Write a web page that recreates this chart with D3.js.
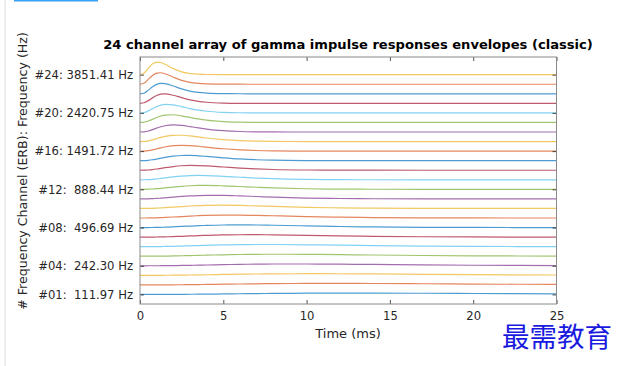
<!DOCTYPE html>
<html>
<head>
<meta charset="utf-8">
<script src="https://cdn.jsdelivr.net/npm/d3@7"></script>
<style>
  html, body { margin: 0; padding: 0; background: #fff; }
  svg { display: block; }
  text { font-family: "DejaVu Sans", sans-serif; }
</style>
</head>
<body>
<svg id="chart" width="624" height="366"></svg>
<script>
// ---------------- data ----------------
const title = "24 channel array of gamma impulse responses envelopes (classic)";
const xLabel = "Time (ms)";
const yLabel = "# Frequency Channel (ERB): Frequency (Hz)";

const channels = d3.range(1, 25);
const xTicks = [0, 5, 10, 15, 20, 25];
const yTickChannels = [1, 4, 8, 12, 16, 20, 24];
const yTickLabels = [
  "#01:  111.97 Hz",
  "#04:  242.30 Hz",
  "#08:  496.69 Hz",
  "#12:  888.44 Hz",
  "#16: 1491.72 Hz",
  "#20: 2420.75 Hz",
  "#24: 3851.41 Hz"
];

// time samples (ms)
const timeMs = [0, 0.25, 0.5, 0.75, 1, 1.25, 1.5, 2, 2.5, 3, 3.5, 4, 5, 6, 7, 8, 10, 12, 14, 17, 20, 25];

// envelope height above each channel's baseline (in channel units), channel 1 .. 24
const envelopes = [
  [0,0,0,0,0.001,0.002,0.003,0.007,0.012,0.018,0.026,0.034,0.053,0.072,0.090,0.107,0.130,0.140,0.139,0.123,0.099,0.059],
  [0,0,0,0.001,0.002,0.003,0.005,0.010,0.017,0.026,0.036,0.047,0.070,0.093,0.114,0.131,0.151,0.154,0.145,0.118,0.088,0.046],
  [0,0,0,0.001,0.002,0.004,0.007,0.014,0.024,0.036,0.049,0.063,0.092,0.119,0.141,0.157,0.171,0.165,0.146,0.108,0.073,0.033],
  [0,0,0.001,0.002,0.003,0.006,0.010,0.020,0.034,0.049,0.067,0.084,0.119,0.149,0.170,0.184,0.187,0.169,0.140,0.094,0.058,0.022],
  [0,0,0.001,0.002,0.005,0.009,0.014,0.029,0.047,0.067,0.089,0.111,0.151,0.181,0.200,0.208,0.196,0.164,0.126,0.076,0.042,0.013],
  [0,0,0.001,0.004,0.008,0.013,0.021,0.040,0.064,0.091,0.118,0.144,0.187,0.216,0.229,0.228,0.198,0.153,0.108,0.058,0.028,0.007],
  [0,0,0.002,0.005,0.011,0.019,0.030,0.056,0.087,0.120,0.152,0.182,0.226,0.249,0.252,0.240,0.190,0.134,0.086,0.040,0.017,0.003],
  [0,0,0.003,0.008,0.016,0.027,0.042,0.077,0.117,0.157,0.194,0.225,0.267,0.279,0.268,0.243,0.174,0.110,0.064,0.026,0.009,0.001],
  [0,0.001,0.004,0.011,0.023,0.039,0.058,0.105,0.154,0.202,0.242,0.274,0.306,0.302,0.274,0.234,0.150,0.085,0.044,0.015,0.004,0.001],
  [0,0.001,0.006,0.016,0.033,0.055,0.081,0.140,0.200,0.254,0.295,0.323,0.338,0.314,0.267,0.214,0.120,0.060,0.027,0.008,0.002,0],
  [0,0.001,0.008,0.023,0.046,0.076,0.111,0.185,0.256,0.313,0.351,0.371,0.362,0.312,0.248,0.185,0.090,0.039,0.015,0.003,0.001,0],
  [0,0.002,0.012,0.033,0.065,0.105,0.150,0.241,0.320,0.376,0.406,0.412,0.371,0.296,0.217,0.150,0.062,0.023,0.008,0.001,0,0],
  [0,0.003,0.018,0.048,0.091,0.144,0.200,0.309,0.392,0.441,0.455,0.442,0.365,0.267,0.179,0.113,0.039,0.012,0.003,0,0,0],
  [0,0.004,0.025,0.067,0.126,0.194,0.263,0.386,0.467,0.500,0.491,0.454,0.340,0.225,0.137,0.078,0.023,0.006,0.001,0,0,0],
  [0,0.006,0.037,0.095,0.172,0.258,0.341,0.474,0.542,0.549,0.511,0.448,0.300,0.178,0.097,0.050,0.012,0.002,0,0,0,0],
  [0,0.009,0.053,0.132,0.232,0.337,0.432,0.565,0.609,0.580,0.508,0.419,0.249,0.131,0.063,0.029,0.005,0.001,0,0,0,0],
  [0,0.013,0.075,0.182,0.309,0.434,0.538,0.657,0.662,0.589,0.482,0.371,0.193,0.088,0.037,0.015,0.002,0,0,0,0,0],
  [0,0.019,0.106,0.247,0.405,0.547,0.653,0.740,0.690,0.570,0.433,0.308,0.138,0.054,0.020,0.007,0.001,0,0,0,0,0],
  [0,0.028,0.148,0.332,0.521,0.675,0.773,0.805,0.691,0.525,0.366,0.240,0.091,0.030,0.009,0.003,0,0,0,0,0,0],
  [0,0.041,0.206,0.440,0.659,0.814,0.890,0.844,0.659,0.456,0.289,0.173,0.054,0.015,0.004,0.001,0,0,0,0,0,0],
  [0,0.059,0.283,0.573,0.816,0.956,0.991,0.846,0.595,0.371,0.212,0.114,0.029,0.006,0.001,0,0,0,0,0,0,0],
  [0,0.085,0.384,0.734,0.985,1.089,1.066,0.810,0.508,0.281,0.143,0.069,0.014,0.002,0,0,0,0,0,0,0,0],
  [0,0.121,0.514,0.921,1.158,1.201,1.101,0.735,0.404,0.197,0.088,0.037,0.006,0.001,0,0,0,0,0,0,0,0],
  [0,0.172,0.678,1.130,1.323,1.276,1.089,0.630,0.300,0.126,0.049,0.018,0.002,0,0,0,0,0,0,0,0,0]
];

const palette = ["#0072BD", "#D95319", "#EDB120", "#7E2F8E", "#77AC30", "#4DBEEE", "#A2142F"];

// ---------------- layout ----------------
const svg = d3.select("#chart");
const L = 140, R = 556.5, T = 57, B = 304;

const x = d3.scaleLinear().domain([0, 25]).range([L, R]);
const y = d3.scaleLinear().domain([0, 25.85]).range([B, T]);
const color = d3.scaleOrdinal().domain(d3.range(7)).range(palette);

// page decorations
svg.append("rect").attr("x", 14).attr("y", 0).attr("width", 84).attr("height", 1.5).attr("fill", "#3aa0f5");
svg.append("line").attr("x1", 5).attr("x2", 5).attr("y1", 0).attr("y2", 366)
  .attr("stroke", "#dcdcdc").attr("stroke-width", 1);

// plot background
svg.append("rect").attr("x", L).attr("y", T).attr("width", R - L).attr("height", B - T).attr("fill", "#fff");

// lines
const line = d3.line()
  .x(d => x(d[0]))
  .y(d => y(d[1]))
  .curve(d3.curveMonotoneX);

const g = svg.append("g");
channels.forEach((ch, i) => {
  const pts = timeMs.map((t, j) => [t, ch + envelopes[i][j]]);
  g.append("path")
    .attr("d", line(pts))
    .attr("fill", "none")
    .attr("stroke", color(i % 7))
    .attr("stroke-opacity", 0.7)
    .attr("stroke-width", 1.2);
});

// axes
const axisColor = "#262626";
function styleAxis(sel, showText) {
  sel.select(".domain").remove();
  sel.selectAll(".tick line").attr("stroke", axisColor).attr("stroke-width", 0.8);
  sel.selectAll(".tick text").attr("fill", axisColor).style("font-size", "11.6px")
    .style("font-family", "'DejaVu Sans', sans-serif").style("white-space", "pre");
  if (!showText) sel.selectAll(".tick text").remove();
}

svg.append("g").attr("transform", `translate(0,${B})`)
  .call(d3.axisBottom(x).tickValues(xTicks).tickSizeInner(-4).tickSizeOuter(0).tickPadding(8).tickFormat(d3.format("d")))
  .call(s => styleAxis(s, true));
svg.append("g").attr("transform", `translate(0,${T})`)
  .call(d3.axisTop(x).tickValues(xTicks).tickSizeInner(-4).tickSizeOuter(0))
  .call(s => styleAxis(s, false));
svg.append("g").attr("transform", `translate(${L},0)`)
  .call(d3.axisLeft(y).tickValues(yTickChannels).tickSizeInner(-4).tickSizeOuter(0).tickPadding(7)
    .tickFormat((d, i) => yTickLabels[i]))
  .call(s => styleAxis(s, true));
svg.append("g").attr("transform", `translate(${R},0)`)
  .call(d3.axisRight(y).tickValues(yTickChannels).tickSizeInner(-4).tickSizeOuter(0))
  .call(s => styleAxis(s, false));

// box
svg.append("rect").attr("x", L).attr("y", T).attr("width", R - L).attr("height", B - T)
  .attr("fill", "none").attr("stroke", "#8a8a8a").attr("stroke-width", 1);

// title & labels
svg.append("text").attr("x", 348).attr("y", 49).attr("text-anchor", "middle")
  .style("font-size", "13.1px").style("font-weight", "bold").attr("fill", "#000").text(title);
svg.append("text").attr("x", 348).attr("y", 338).attr("text-anchor", "middle")
  .style("font-size", "13px").attr("fill", axisColor).text(xLabel);
svg.append("text").attr("transform", "translate(27,171) rotate(-90)").attr("text-anchor", "middle")
  .style("font-size", "12.6px").attr("fill", axisColor).text(yLabel);

// watermark
svg.append("text").attr("x", 502).attr("y", 347)
  .style("font-family", "'Noto Sans CJK SC', sans-serif").style("font-size", "27.5px")
  .attr("fill", "#1a1adf").text("最需教育");
</script>
</body>
</html>
